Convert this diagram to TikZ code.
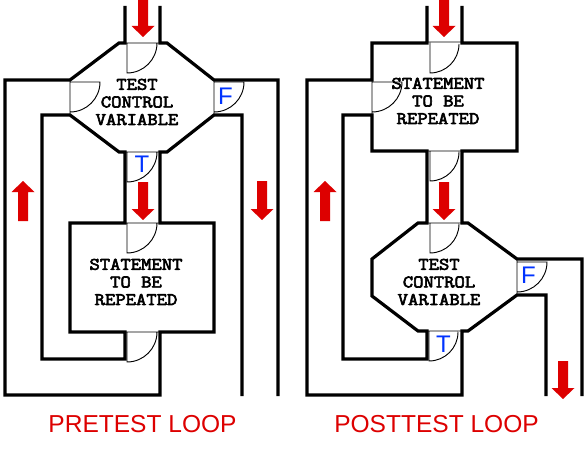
\documentclass[tikz,border=0pt]{standalone}
\usepackage{fontspec}
\setmainfont{Liberation Sans}
\newfontfamily\boxfont{Latin Modern Mono}[FakeStretch=1.14, FakeBold=3.5]
\definecolor{arrowred}{RGB}{221,0,0}
\definecolor{tfblue}{RGB}{0,51,255}
\newcommand\arrdown[3]{\fill[arrowred] (#1-5,#2) -- (#1+5,#2) -- (#1+5,#3-11) -- (#1+11.5,#3-11) -- (#1,#3) -- (#1-11.5,#3-11) -- (#1-5,#3-11) -- cycle;}
\newcommand\arrup[3]{\fill[arrowred] (#1-5,#3) -- (#1+5,#3) -- (#1+5,#2+11) -- (#1+11.5,#2+11) -- (#1,#2) -- (#1-11.5,#2+11) -- (#1-5,#2+11) -- cycle;}
\tikzset{
  wall/.style={line width=2.4pt, line join=miter},
  doorline/.style={line width=0.7pt},
  boxtext/.style={inner sep=0pt, align=center, font=\boxfont\fontsize{13.2pt}{13.2pt}\selectfont},
  title/.style={inner sep=0pt, text=arrowred, font=\fontsize{18.4pt}{20pt}\selectfont},
  tf/.style={inner sep=0pt, text=tfblue, font=\fontsize{18pt}{18pt}\selectfont},
}
\begin{document}
\begin{tikzpicture}[x=0.75pt,y=-0.75pt]
\useasboundingbox[fill=white] (0,0) rectangle (588,449);
% ---------------- PRETEST LOOP ----------------
\draw[wall] (125,6)--(125,43)--(119,43)--(70,80)--(5,80)--(5,395)--(160,395)--(160,332)--(214,332)--(214,223)--(160,223)--(160,152)--(167,152)--(214,115)--(242,115)--(242,396);
\draw[wall] (160,6)--(160,43)--(167,43)--(214,80)--(278,80)--(278,396);
\draw[wall] (70,115)--(42,115)--(42,359)--(125,359)--(125,332)--(70,332)--(70,223)--(125,223)--(125,152)--(119,152)--cycle;
% doors
\draw[doorline] (125,43)--(160,43) (127,43)--(127,73) arc[start angle=-90,end angle=0,radius=22.5pt];
\draw[doorline] (70,80)--(70,115) (70,82)--(100,82) arc[start angle=0,end angle=-90,radius=22.5pt];
\draw[doorline] (214,80)--(214,115) (214,82)--(244,82) arc[start angle=0,end angle=-90,radius=22.5pt];
\draw[doorline] (125,152)--(160,152) (127,152)--(127,182) arc[start angle=-90,end angle=0,radius=22.5pt];
\draw[doorline] (125,223)--(160,223) (127,223)--(127,253) arc[start angle=-90,end angle=0,radius=22.5pt];
\draw[doorline] (125,332)--(160,332) (127,332)--(127,362) arc[start angle=-90,end angle=0,radius=22.5pt];
% arrows
\arrdown{143}{0}{37}
\arrdown{143}{182}{220}
\arrup{23}{181}{221}
\arrdown{262}{181}{220}
% texts
\node[boxtext] (testL) at (137,102) {TEST\\CONTROL\\VARIABLE};
\node[boxtext] (stmtL) at (136,282) {STATEMENT\\TO BE\\REPEATED};
\node[tf] (fL) at (225.5,96) {F};
\node[tf] (tL) at (142,164) {T};
\node[title] (preT) at (142.5,424) {PRETEST LOOP};
% ---------------- POSTTEST LOOP ----------------
\draw[wall] (427,6)--(427,43)--(372,43)--(372,80)--(307,80)--(307,395)--(462,395)--(462,331)--(468,331)--(517,295)--(546,295)--(546,396);
\draw[wall] (462,6)--(462,43)--(517,43)--(517,151)--(462,151)--(462,223)--(468,223)--(517,259)--(582,259)--(582,396);
\draw[wall] (372,115)--(343,115)--(343,359)--(427,359)--(427,331)--(418,331)--(372,296)--(372,259)--(418,223)--(427,223)--(427,151)--(372,151)--cycle;
% doors
\draw[doorline] (427,42)--(462,42) (430,43)--(430,73) arc[start angle=-90,end angle=0,radius=21.75pt];
\draw[doorline] (372,80)--(372,115) (372,82)--(402,82) arc[start angle=0,end angle=-90,radius=22.5pt];
\draw[doorline] (427,151)--(462,151) (430,151)--(430,181) arc[start angle=-90,end angle=0,radius=21.75pt];
\draw[doorline] (427,223)--(462,223) (430,223)--(430,253) arc[start angle=-90,end angle=0,radius=21.75pt];
\draw[doorline] (517,259)--(517,295) (517,262)--(547,262) arc[start angle=0,end angle=-90,radius=22.5pt];
\draw[doorline] (427,331)--(462,331) (429,331)--(429,361) arc[start angle=-90,end angle=0,radius=21.75pt];
% arrows
\arrdown{444}{0}{37}
\arrdown{444}{182}{220}
\arrup{325}{181}{221}
\arrdown{563}{361}{399}
% texts
\node[boxtext] (stmtR) at (438,101) {STATEMENT\\TO BE\\REPEATED};
\node[boxtext] (testR) at (439,282) {TEST\\CONTROL\\VARIABLE};
\node[tf] (fR) at (528.5,275) {F};
\node[tf] (tR) at (443.5,344) {T};
\node[title] (postT) at (436.5,424) {POSTTEST LOOP};
\end{tikzpicture}
\end{document}
